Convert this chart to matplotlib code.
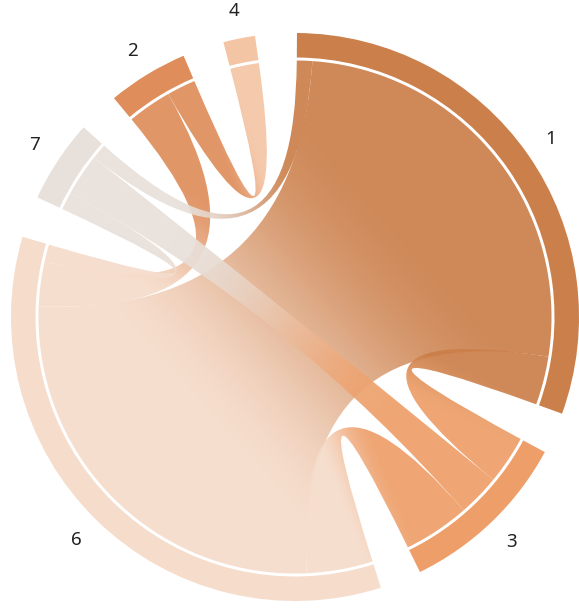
import numpy as np
import matplotlib
matplotlib.use("Agg")
import matplotlib.pyplot as plt
from matplotlib.path import Path
from matplotlib.patches import PathPatch, Wedge
from matplotlib.colors import to_rgb

# Groups, listed clockwise starting from the top of the circle
groups = ["1", "3", "6", "7", "2", "4"]
group_colors = ["#CB7F4A", "#EE9E68", "#F6DCCB", "#E8E0DA", "#DF8D5A", "#F4C5A5"]

# Undirected flows between groups
link_source = ["1", "1", "1", "3", "3", "6", "6", "2"]
link_target = ["7", "6", "3", "7", "6", "2", "7", "4"]
link_value = [3.5, 95, 11, 9.5, 15, 10, 4, 6.5]

# ---- figure / layout -------------------------------------------------------
W, H = 579, 609
CX, CY = 295, 317
R_RIB = 256.5
R_IN, R_OUT = 259.5, 284.0
START = 89.6

fig = plt.figure(figsize=(W / 100, H / 100), dpi=100)
ax = fig.add_axes([0, 0, 1, 1])
ax.set_xlim(-CX, W - CX)
ax.set_ylim(-(H - CY), CY)
ax.set_axis_off()

n = len(groups)
idx = {g: i for i, g in enumerate(groups)}
totals = np.zeros(n)
for s, t, v in zip(link_source, link_target, link_value):
    totals[idx[s]] += v
    totals[idx[t]] += v
gap = (360.0 - totals.sum()) / n

# group arcs (angles decrease clockwise)
g_start = np.zeros(n)
g_end = np.zeros(n)
a = START
for i in range(n):
    g_start[i] = a
    g_end[i] = a - totals[i]
    a = g_end[i] - gap

# sub-arcs: within a group, partners ordered by counter-clockwise distance
sub = {}
for i, g in enumerate(groups):
    ends = []
    for k, (s, t, v) in enumerate(zip(link_source, link_target, link_value)):
        if s == g:
            ends.append((k, t, v))
        elif t == g:
            ends.append((k, s, v))
    ends.sort(key=lambda e: (i - idx[e[1]]) % n)
    a = g_start[i]
    for k, p, v in ends:
        sub[(k, g)] = (a, a - v)
        a -= v


def pt(ang, r=R_RIB):
    th = np.radians(ang)
    return np.array([r * np.cos(th), r * np.sin(th)])


def arc_pts(a0, a1, r=R_RIB):
    m = max(int(abs(a1 - a0) * 2) + 2, 3)
    return [pt(x, r) for x in np.linspace(a0, a1, m)]


# grid for gradient fills
xs = np.linspace(-CX, W - CX, W)
ys = np.linspace(-(H - CY), CY, H)
X, Y = np.meshgrid(xs, ys)

order = np.argsort(link_value)[::-1]
for k in order:
    s, t = link_source[k], link_target[k]
    a_s, b_s = sub[(k, s)]
    a_t, b_t = sub[(k, t)]
    verts, codes = [], []
    sp = arc_pts(a_s, b_s)
    verts += sp
    codes += [Path.MOVETO] + [Path.LINETO] * (len(sp) - 1)
    verts += [(0, 0), pt(a_t)]
    codes += [Path.CURVE3, Path.CURVE3]
    tp = arc_pts(a_t, b_t)[1:]
    verts += tp
    codes += [Path.LINETO] * len(tp)
    verts += [(0, 0), pt(a_s), pt(a_s)]
    codes += [Path.CURVE3, Path.CURVE3, Path.CLOSEPOLY]
    path = Path(np.array(verts), codes)
    patch = PathPatch(path, facecolor="none", edgecolor="none")
    ax.add_patch(patch)

    # colour blends from one group's colour to the other's across the middle
    p0 = pt((a_s + b_s) / 2)
    p1 = pt((a_t + b_t) / 2)
    d = p1 - p0
    tt = ((X - p0[0]) * d[0] + (Y - p0[1]) * d[1]) / (d @ d)
    tt = np.clip((tt - 0.22) / 0.56, 0, 1)
    tt = (tt * tt * (3 - 2 * tt))[..., None]
    c0 = np.array(to_rgb(group_colors[idx[s]]))
    c1 = np.array(to_rgb(group_colors[idx[t]]))
    rgb = c0 * (1 - tt) + c1 * tt
    img = np.concatenate([rgb, np.full(tt.shape, 0.92)], axis=2)
    im = ax.imshow(img, extent=(-CX, W - CX, -(H - CY), CY), origin="lower",
                   interpolation="bilinear", zorder=2)
    im.set_clip_path(patch)

# outer ring segments and labels
for i, g in enumerate(groups):
    ax.add_patch(Wedge((0, 0), R_OUT, g_end[i], g_start[i], width=R_OUT - R_IN,
                       facecolor=group_colors[i], edgecolor="none", zorder=3))
    mid = (g_start[i] + g_end[i]) / 2
    lx, ly = pt(mid, 312)
    ax.text(lx, ly, g, ha="center", va="center", fontsize=13.5,
            family="Noto Sans", color="#222222", zorder=4)

ax.set_xlim(-CX, W - CX)
ax.set_ylim(-(H - CY), CY)
ax.set_aspect("equal")
fig.savefig("out.png", dpi=100, facecolor="white")
